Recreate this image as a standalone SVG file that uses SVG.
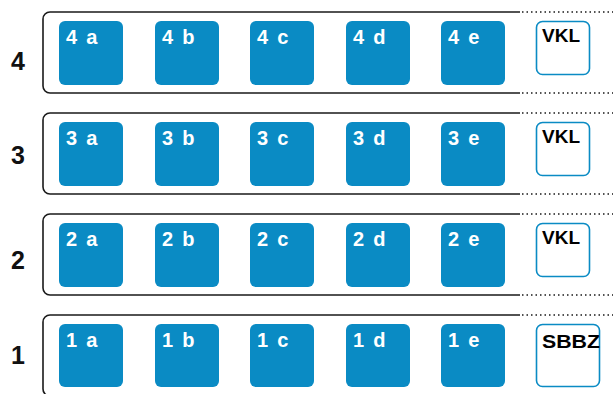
<svg xmlns="http://www.w3.org/2000/svg" width="613" height="394" viewBox="0 0 613 394">
<style>
.frame{fill:none;stroke:#1a1a1a;stroke-width:1.6}
.dot{fill:none;stroke:#1a1a1a;stroke-width:1.6;stroke-dasharray:1.5 3}
.box{fill:#0a8bc4}
.lbl{fill:#fff;font-family:"Liberation Sans",Arial,sans-serif;font-weight:bold;font-size:20px;letter-spacing:1.8px}
.num{fill:#111;font-family:"Liberation Sans",Arial,sans-serif;font-weight:bold;font-size:25px}
.ext{fill:#fff;stroke:#0a8bc4;stroke-width:1.6}
.extlbl{fill:#000;font-family:"Liberation Sans",Arial,sans-serif;font-weight:bold;font-size:19px}
</style>
<rect width="613" height="394" fill="#fff"/>
<g id="row4">
<text class="num" x="11" y="70">4</text>
<path class="frame" d="M520 12H50a7 7 0 0 0-7 7V86a7 7 0 0 0 7 7H520"/>
<path class="dot" d="M522 12H613M522 93H613"/>
<g id="n4a"><rect class="box" x="59" y="21" width="64" height="64" rx="6"/><text class="lbl" x="66" y="44">4 a</text></g>
<g id="n4b"><rect class="box" x="155" y="21" width="64" height="64" rx="6"/><text class="lbl" x="162" y="44">4 b</text></g>
<g id="n4c"><rect class="box" x="250" y="21" width="64" height="64" rx="6"/><text class="lbl" x="257" y="44">4 c</text></g>
<g id="n4d"><rect class="box" x="346" y="21" width="64" height="64" rx="6"/><text class="lbl" x="353" y="44">4 d</text></g>
<g id="n4e"><rect class="box" x="441" y="21" width="64" height="64" rx="6"/><text class="lbl" x="448" y="44">4 e</text></g>
<g id="n4vkl"><rect class="ext" x="536.5" y="21.5" width="53" height="53" rx="6"/><text class="extlbl" x="542" y="42">VKL</text></g>
</g>
<g id="row3">
<text class="num" x="11" y="164">3</text>
<path class="frame" d="M520 113H50a7 7 0 0 0-7 7V187a7 7 0 0 0 7 7H520"/>
<path class="dot" d="M522 113H613M522 194H613"/>
<g id="n3a"><rect class="box" x="59" y="122" width="64" height="64" rx="6"/><text class="lbl" x="66" y="145">3 a</text></g>
<g id="n3b"><rect class="box" x="155" y="122" width="64" height="64" rx="6"/><text class="lbl" x="162" y="145">3 b</text></g>
<g id="n3c"><rect class="box" x="250" y="122" width="64" height="64" rx="6"/><text class="lbl" x="257" y="145">3 c</text></g>
<g id="n3d"><rect class="box" x="346" y="122" width="64" height="64" rx="6"/><text class="lbl" x="353" y="145">3 d</text></g>
<g id="n3e"><rect class="box" x="441" y="122" width="64" height="64" rx="6"/><text class="lbl" x="448" y="145">3 e</text></g>
<g id="n3vkl"><rect class="ext" x="536.5" y="122.5" width="53" height="53" rx="6"/><text class="extlbl" x="542" y="143">VKL</text></g>
</g>
<g id="row2">
<text class="num" x="11" y="269">2</text>
<path class="frame" d="M520 214H50a7 7 0 0 0-7 7V288a7 7 0 0 0 7 7H520"/>
<path class="dot" d="M522 214H613M522 295H613"/>
<g id="n2a"><rect class="box" x="59" y="223" width="64" height="64" rx="6"/><text class="lbl" x="66" y="246">2 a</text></g>
<g id="n2b"><rect class="box" x="155" y="223" width="64" height="64" rx="6"/><text class="lbl" x="162" y="246">2 b</text></g>
<g id="n2c"><rect class="box" x="250" y="223" width="64" height="64" rx="6"/><text class="lbl" x="257" y="246">2 c</text></g>
<g id="n2d"><rect class="box" x="346" y="223" width="64" height="64" rx="6"/><text class="lbl" x="353" y="246">2 d</text></g>
<g id="n2e"><rect class="box" x="441" y="223" width="64" height="64" rx="6"/><text class="lbl" x="448" y="246">2 e</text></g>
<g id="n2vkl"><rect class="ext" x="536.5" y="223.5" width="53" height="53" rx="6"/><text class="extlbl" x="542" y="244">VKL</text></g>
</g>
<g id="row1">
<text class="num" x="11" y="364">1</text>
<path class="frame" d="M520 315H50a7 7 0 0 0-7 7V389a7 7 0 0 0 7 7H520"/>
<path class="dot" d="M522 315H613"/>
<g id="n1a"><rect class="box" x="59" y="324" width="64" height="63" rx="6"/><text class="lbl" x="66" y="347">1 a</text></g>
<g id="n1b"><rect class="box" x="155" y="324" width="64" height="63" rx="6"/><text class="lbl" x="162" y="347">1 b</text></g>
<g id="n1c"><rect class="box" x="250" y="324" width="64" height="63" rx="6"/><text class="lbl" x="257" y="347">1 c</text></g>
<g id="n1d"><rect class="box" x="346" y="324" width="64" height="63" rx="6"/><text class="lbl" x="353" y="347">1 d</text></g>
<g id="n1e"><rect class="box" x="441" y="324" width="64" height="63" rx="6"/><text class="lbl" x="448" y="347">1 e</text></g>
<g id="n1sbbz"><rect class="ext" x="536.5" y="324.5" width="63" height="62" rx="6"/><text class="extlbl" x="542" y="348" textLength="58" lengthAdjust="spacingAndGlyphs">SBBZ</text></g>
</g>
<g id="connectors"></g>
</svg>
